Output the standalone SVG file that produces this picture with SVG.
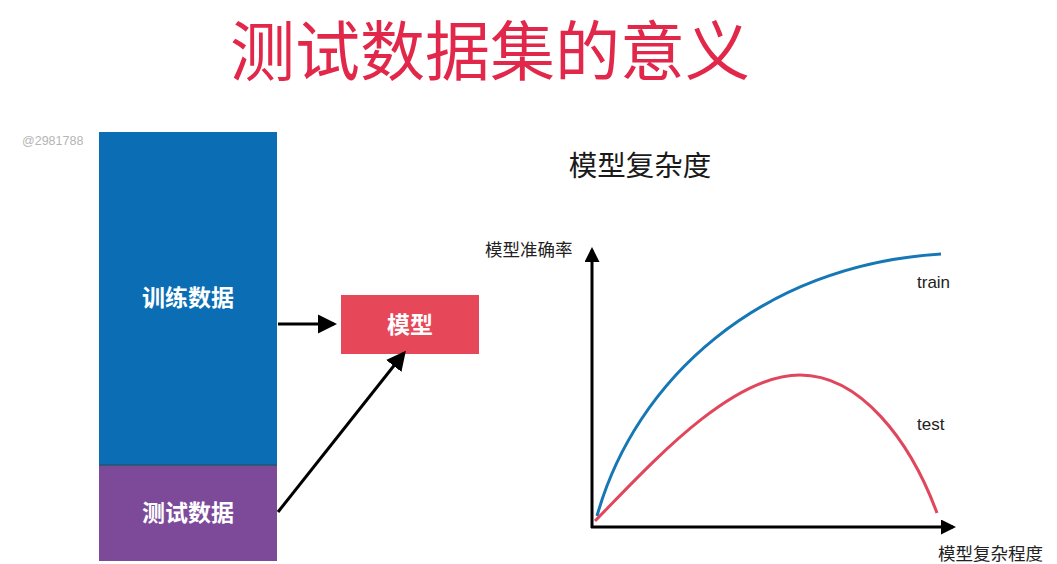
<svg xmlns="http://www.w3.org/2000/svg" width="1057" height="564" viewBox="0 0 1057 564">
<style>
.cjk{font-family:"Noto Sans CJK SC","Liberation Sans",sans-serif;}
.lat{font-family:"Liberation Sans","Noto Sans",sans-serif;}
.boxlabel{fill:#ffffff;font-size:23px;font-weight:bold;text-anchor:middle;}
.axislabel{fill:#222222;font-size:17.5px;}
.conn{stroke:#000000;stroke-width:3;fill:none;}
.axis{stroke:#000000;stroke-width:3;fill:none;}
</style>
<defs>
<marker id="ah" markerWidth="6.5" markerHeight="6.5" refX="5.5" refY="3.25" orient="auto" markerUnits="strokeWidth">
<path d="M0,0 L6.5,3.25 L0,6.5 Z" fill="#000000"/>
</marker>
<marker id="axh" markerWidth="5" markerHeight="5" refX="4" refY="2.5" orient="auto" markerUnits="strokeWidth">
<path d="M0,0 L5,2.5 L0,5 Z" fill="#000000"/>
</marker>
</defs>
<rect width="1057" height="564" fill="#ffffff"/>
<text class="cjk" x="490" y="75" font-size="65" fill="#e2284a" text-anchor="middle">测试数据集的意义</text>
<text class="lat" x="22" y="145" font-size="12.5" fill="#b5b5b5">@2981788</text>

<g id="train-data">
<rect x="99" y="132" width="178" height="333" fill="#0b6eb4"/>
<text class="cjk boxlabel" x="188" y="306">训练数据</text>
</g>
<g id="test-data">
<rect x="99" y="465" width="178" height="96" fill="#7d4a9a"/>
<line x1="99" y1="465" x2="277" y2="465" stroke="#1f5a6e" stroke-width="1.5"/>
<text class="cjk boxlabel" x="188" y="521">测试数据</text>
</g>
<g id="model">
<rect x="341" y="295" width="138" height="59" fill="#e6485a"/>
<text class="cjk boxlabel" x="410" y="333">模型</text>
</g>

<g id="connectors">
<line class="conn" x1="278" y1="324" x2="334" y2="324" marker-end="url(#ah)"/>
<line class="conn" x1="278" y1="512" x2="404" y2="353" marker-end="url(#ah)"/>
</g>

<g id="chart">
<text class="cjk" x="640" y="176" font-size="28.5" fill="#1a1a1a" text-anchor="middle">模型复杂度</text>
<text class="cjk axislabel" x="485" y="256">模型准确率</text>
<text class="cjk axislabel" x="938" y="560">模型复杂程度</text>
<g id="axes">
<line class="axis" x1="592" y1="528" x2="592" y2="250" marker-end="url(#axh)"/>
<line class="axis" x1="591" y1="527" x2="953" y2="527" marker-end="url(#axh)"/>
</g>
<g id="train-curve">
<path d="M597,516 C635,380 760,265 941,254" stroke="#1677b5" stroke-width="3" fill="none"/>
<text class="lat" x="917" y="288" font-size="17" fill="#222222">train</text>
</g>
<g id="test-curve">
<path d="M595,521 C650,465 730,375 800,375 C860,375 910,440 937,513" stroke="#e0475d" stroke-width="3" fill="none"/>
<text class="lat" x="917" y="430" font-size="17" fill="#222222">test</text>
</g>
</g>
</svg>
